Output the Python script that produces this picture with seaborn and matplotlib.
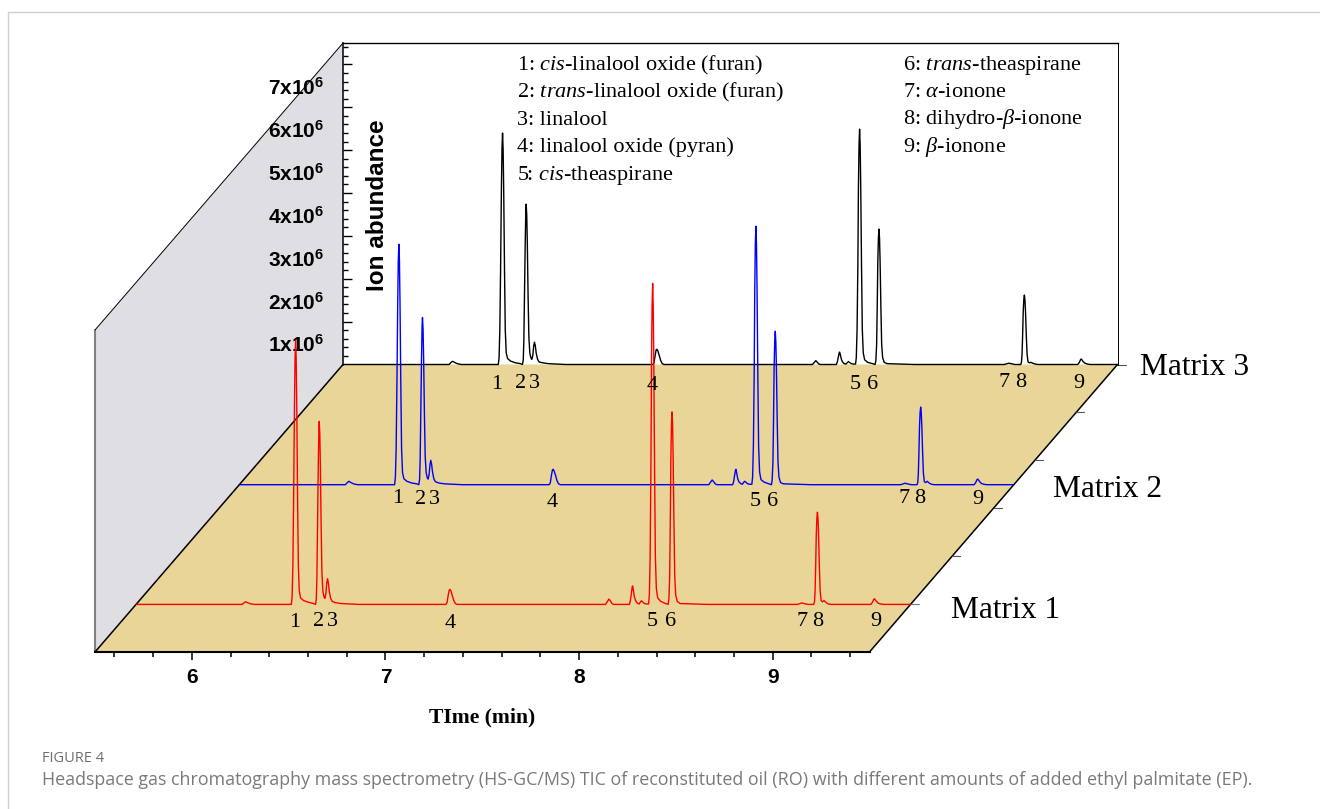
import matplotlib
matplotlib.use("Agg")
import matplotlib.pyplot as plt
from matplotlib.patches import Polygon
from matplotlib.transforms import ScaledTranslation
from matplotlib.ticker import MultipleLocator
import seaborn as sb

# retention time grid (min), shared by the three runs
TIME = [
    5.50, 5.75, 5.95, 6.048, 6.058, 6.066, 6.076, 6.09, 6.11, 6.25,
    6.302, 6.306, 6.310, 6.314, 6.318, 6.321, 6.324, 6.327, 6.330, 6.334, 6.338, 6.343, 6.350, 6.365, 6.39, 6.417,
    6.427, 6.431, 6.434, 6.437, 6.441, 6.444, 6.446, 6.449, 6.452, 6.456, 6.460,
    6.465, 6.471, 6.475, 6.480, 6.485, 6.489, 6.493, 6.498, 6.505, 6.513, 6.53, 6.56, 6.60, 6.65, 6.90,
    7.10, 7.106, 7.112, 7.117, 7.121, 7.126, 7.133, 7.141, 7.149, 7.158, 7.60,
    7.925, 7.932, 7.942, 7.95, 7.958, 7.966,
    8.048, 8.053, 8.058, 8.063, 8.065, 8.069, 8.074, 8.080, 8.088, 8.098,
    8.104, 8.110, 8.118, 8.126, 8.135, 8.145,
    8.147, 8.151, 8.155, 8.159, 8.162, 8.165, 8.168, 8.171, 8.174, 8.178, 8.182, 8.187, 8.194, 8.21, 8.235,
    8.248, 8.252, 8.256, 8.259, 8.262, 8.265, 8.268, 8.271, 8.274, 8.278, 8.282, 8.287, 8.295, 8.31, 8.45, 8.80,
    8.915, 8.93, 8.938, 8.95, 8.97,
    9.000, 9.004, 9.007, 9.010, 9.013, 9.016, 9.019, 9.022, 9.025, 9.029, 9.033, 9.038,
    9.045, 9.053, 9.062, 9.075, 9.09,
    9.295, 9.303, 9.31, 9.314, 9.322, 9.332, 9.345, 9.36, 9.50,
]

# ion abundance in units of 1e6
MATRIX_1 = [
    0, 0, 0, 0.0, 0.04, 0.06, 0.04, 0.015, 0, 0,
    0, .18, .92, 2.59, 4.62, 5.73, 6.16, 5.73, 4.62, 2.59, .92, .31, .15, .09, .05, .02,
    0, .13, .64, 1.79, 3.20, 4.06, 4.27, 3.97, 3.20, 1.79, .73,
    .30, .17, .14, .24, .51, .60, .51, .30, .14, .07, .04, .02, .01, 0, 0,
    0, .04, .21, .33, .35, .32, .21, .09, .02, 0, 0,
    0, .05, .125, .08, .02, 0,
    0, .09, .26, .42, .43, .32, .17, .09, .03, .01,
    .05, .085, .05, .02, .01, .01,
    .01, .22, 1.12, 3.15, 5.62, 6.97, 7.49, 6.97, 5.62, 3.15, 1.12, .37, .15, .07, .02,
    0, .13, .67, 1.89, 3.37, 4.18, 4.49, 4.18, 3.37, 1.89, .67, .22, .07, .02, 0, 0,
    0, .02, .035, .02, 0,
    0, .06, .32, .90, 1.61, 2.00, 2.15, 2.00, 1.61, .90, .32, .09,
    .06, .09, .05, .01, 0,
    0, .05, .12, .13, .08, .03, .01, 0, 0,
]
MATRIX_2 = [
    0, 0, 0, 0.0, 0.05, 0.08, 0.05, 0.02, 0, 0,
    0, .17, .84, 2.36, 4.21, 5.22, 5.61, 5.22, 4.21, 2.36, .84, .28, .14, .08, .04, .02,
    0, .12, .59, 1.64, 2.93, 3.71, 3.90, 3.63, 2.93, 1.64, .66,
    .28, .16, .13, .23, .48, .57, .48, .29, .13, .07, .04, .02, .01, 0, 0,
    0, .04, .22, .34, .36, .32, .22, .09, .02, 0, 0,
    0, .05, .11, .07, .02, 0,
    0, .07, .22, .35, .36, .27, .14, .07, .03, .01,
    .05, .08, .05, .02, .01, .01,
    .01, .18, .90, 2.53, 4.52, 5.61, 6.03, 5.61, 4.52, 2.53, .90, .30, .12, .06, .02,
    0, .11, .54, 1.50, 2.69, 3.33, 3.58, 3.33, 2.69, 1.50, .54, .18, .05, .02, 0, 0,
    0, .02, .035, .02, 0,
    0, .05, .27, .76, 1.36, 1.68, 1.81, 1.68, 1.36, .76, .27, .07,
    .05, .08, .04, .01, 0,
    0, .05, .12, .13, .08, .03, .01, 0, 0,
]
MATRIX_3 = [
    0, 0, 0, 0.0, 0.05, 0.075, 0.05, 0.02, 0, 0,
    0, .16, .81, 2.27, 4.05, 5.02, 5.40, 5.02, 4.05, 2.27, .81, .27, .14, .08, .04, .02,
    0, .11, .56, 1.57, 2.81, 3.55, 3.74, 3.48, 2.81, 1.57, .64,
    .26, .15, .12, .20, .44, .52, .44, .26, .12, .06, .04, .02, .01, 0, 0,
    0, .04, .21, .34, .355, .32, .21, .09, .02, 0, 0,
    0, .04, .09, .05, .01, 0,
    0, .06, .17, .28, .29, .22, .12, .06, .02, .01,
    .04, .07, .04, .02, .01, .01,
    .01, .16, .82, 2.31, 4.12, 5.11, 5.49, 5.11, 4.12, 2.31, .82, .27, .11, .05, .02,
    0, .09, .47, 1.33, 2.37, 2.94, 3.16, 2.94, 2.37, 1.33, .47, .16, .05, .02, 0, 0,
    0, .02, .03, .02, 0,
    0, .05, .24, .68, 1.22, 1.51, 1.62, 1.51, 1.22, .68, .24, .06,
    .04, .05, .03, .01, 0,
    0, .05, .12, .125, .07, .03, .01, 0, 0,
]

TIME_TICKS = [6, 7, 8, 9]
ABUNDANCE_TICKS = [1, 2, 3, 4, 5, 6, 7]
ABUNDANCE_MINOR = [0.2, 0.4, 0.6, 0.8, 1.2, 1.4, 1.6, 1.8, 2.2, 2.4, 2.6, 2.8, 3.2, 3.4, 3.6, 3.8,
                   4.2, 4.4, 4.6, 4.8, 5.2, 5.4, 5.6, 5.8, 6.2, 6.4, 6.6, 6.8, 7.2, 7.4]
ABUNDANCE_LABELS = ["%dx10$^{\\mathdefault{6}}$" % v for v in ABUNDANCE_TICKS]
PEAK_NUMBERS = ["1", "2", "3", "4", "5", "6", "7", "8", "9"]
MATRIX_NAMES = ["Matrix 1", "Matrix 2", "Matrix 3"]
LEGEND_LEFT = [
    "1: $\\mathit{cis}$-linalool oxide (furan)",
    "2: $\\mathit{trans}$-linalool oxide (furan)",
    "3: linalool",
    "4: linalool oxide (pyran)",
    "5: $\\mathit{cis}$-theaspirane",
]
LEGEND_RIGHT = [
    "6: $\\mathit{trans}$-theaspirane",
    "7: $\\mathit{\\alpha}$-ionone",
    "8: dihydro-$\\mathit{\\beta}$-ionone",
    "9: $\\mathit{\\beta}$-ionone",
]
CAPTION_HEAD = "FIGURE 4"
CAPTION = ("Headspace gas chromatography mass spectrometry (HS-GC/MS) TIC of reconstituted oil (RO) "
           "with different amounts of added ethyl palmitate (EP).")

W, H = 1320, 809
FRONT_LEFT, FRONT_RIGHT, FRONT_Y = 95, 869.5, 652
BACK_LEFT, BACK_RIGHT, BACK_Y, TOP_Y = 343, 1117.5, 364.5, 43


def addAxes(fig, left, right, top, bottom, z):
    # pixel box -> figure fractions
    return fig.add_axes([left / W, 1 - bottom / H, (right - left) / W, (bottom - top) / H], zorder=z)


def drawRun(fig, values, color, baseY, z):
    # each run gets its own axes, slid along the floor
    shift = (FRONT_Y - baseY) * (BACK_LEFT - FRONT_LEFT) / (FRONT_Y - BACK_Y)
    ax = addAxes(fig, FRONT_LEFT + shift, FRONT_RIGHT + shift, baseY - (BACK_Y - TOP_Y), baseY, z)
    sb.lineplot(x=TIME, y=values, color=color, linewidth=1.0, estimator=None, ax=ax)
    ax.set_xlim(5.5, 9.5)
    ax.set_ylim(0, 7.5)
    ax.axis("off")
    for line in ax.lines:
        line.set_clip_on(False)
    return ax


def main():
    sb.set_style("white")
    plt.rcParams["font.family"] = ["Liberation Serif", "DejaVu Sans"]
    plt.rcParams["text.color"] = "black"
    plt.rcParams["axes.labelcolor"] = "black"
    plt.rcParams["xtick.color"] = "black"
    plt.rcParams["ytick.color"] = "black"
    plt.rcParams["mathtext.fontset"] = "custom"
    plt.rcParams["mathtext.rm"] = "Liberation Serif"
    plt.rcParams["mathtext.it"] = "Liberation Serif:italic"
    plt.rcParams["mathtext.bf"] = "Liberation Serif:bold"

    fig = plt.figure(figsize=(13.2, 8.09), dpi=100)

    # background in pixel coordinates: card border, side wall, floor
    bg = addAxes(fig, 0, W, 0, H, 0)
    bg.set_xlim(0, W)
    bg.set_ylim(H, 0)
    bg.axis("off")
    bg.plot([8, 8, W], [H, 12, 12], color="#cfcfcf", linewidth=1)
    bg.add_patch(Polygon([(FRONT_LEFT, FRONT_Y), (FRONT_LEFT, 330), (BACK_LEFT, TOP_Y), (BACK_LEFT, BACK_Y)],
                         facecolor="#dfdfe3", edgecolor="none"))
    bg.add_patch(Polygon([(FRONT_LEFT, FRONT_Y), (FRONT_RIGHT, FRONT_Y), (BACK_RIGHT, BACK_Y), (BACK_LEFT, BACK_Y)],
                         facecolor="#e8d597", edgecolor="none"))
    bg.plot([FRONT_LEFT, FRONT_LEFT], [330, FRONT_Y], color="#808080", linewidth=1.5)
    bg.plot([FRONT_LEFT, BACK_LEFT], [330, TOP_Y], color="black", linewidth=0.7)
    bg.plot([FRONT_LEFT, BACK_LEFT], [FRONT_Y, BACK_Y], color="black", linewidth=1.1)
    bg.plot([FRONT_RIGHT, BACK_RIGHT], [FRONT_Y, BACK_Y], color="black", linewidth=1.1)
    for y in [412.4, 460.3, 508.2, 556.1]:
        x = FRONT_RIGHT + (FRONT_Y - y) * (BACK_RIGHT - FRONT_RIGHT) / (FRONT_Y - BACK_Y)
        bg.plot([x, x + 8], [y, y], color="#555555", linewidth=0.8)
    bg.plot([1117, 1126], [BACK_Y, BACK_Y], color="#555555", linewidth=0.8)
    bg.plot([909, 919], [604.4, 604.4], color="#777777", linewidth=0.8)

    # back wall carries the abundance axis
    wall = addAxes(fig, BACK_LEFT, BACK_RIGHT, TOP_Y, BACK_Y, 1)
    wall.patch.set_alpha(0)
    wall.set_xlim(5.5, 9.5)
    wall.set_ylim(0, 7.5)
    wall.set_xticks([])
    wall.set_yticks(ABUNDANCE_TICKS)
    wall.set_yticklabels(ABUNDANCE_LABELS, family="Liberation Sans", fontweight="bold", fontsize=15)
    wall.set_yticks(ABUNDANCE_MINOR, minor=True)
    wall.tick_params(axis="y", which="major", direction="in", length=6.5, width=1, pad=13.5, left=True)
    wall.tick_params(axis="y", which="minor", direction="in", length=3.8, width=1, left=True)
    down = ScaledTranslation(0, -22 / 100, fig.dpi_scale_trans)
    for lab in wall.get_yticklabels():
        lab.set_transform(lab.get_transform() + down)
    for side in ["left", "top", "right"]:
        wall.spines[side].set_visible(True)
        wall.spines[side].set_color("black")
    wall.spines["left"].set_linewidth(1.1)
    wall.spines["top"].set_linewidth(1.0)
    wall.spines["right"].set_linewidth(0.7)
    wall.spines["bottom"].set_visible(False)

    drawRun(fig, MATRIX_3, "black", 364.5, 2)
    drawRun(fig, MATRIX_2, "#0000ff", 484.7, 3)
    drawRun(fig, MATRIX_1, "#ff0000", 604.4, 4)

    # front time axis
    front = addAxes(fig, FRONT_LEFT, FRONT_RIGHT, FRONT_Y - 1, FRONT_Y, 5)
    front.patch.set_alpha(0)
    front.set_xlim(5.5, 9.5)
    front.set_yticks([])
    front.set_xticks(TIME_TICKS)
    front.set_xticklabels(TIME_TICKS, family="Liberation Sans", fontweight="bold", fontsize=15)
    front.xaxis.set_minor_locator(MultipleLocator(0.2))
    front.tick_params(axis="x", which="major", direction="out", length=6, width=1.1, pad=5.5, bottom=True)
    front.tick_params(axis="x", which="minor", direction="out", length=3.5, width=1.1, bottom=True)
    for side in ["left", "top", "right"]:
        front.spines[side].set_visible(False)
    front.spines["bottom"].set_visible(True)
    front.spines["bottom"].set_color("black")
    front.spines["bottom"].set_linewidth(1.5)
    front.set_xlabel("TIme (min)", fontweight="bold", fontsize=15.6, labelpad=15)

    # text layer
    txt = addAxes(fig, 0, W, 0, H, 6)
    txt.set_xlim(0, W)
    txt.set_ylim(H, 0)
    txt.axis("off")
    txt.text(377, 205, "Ion abundance", family="Liberation Sans", fontweight="bold", fontsize=17.5,
             rotation=90, ha="center", va="center")
    for i, s in enumerate(LEGEND_LEFT):
        txt.text(517, [65, 92, 120, 147, 175][i], s, fontsize=16, ha="left", va="center")
    for i, s in enumerate(LEGEND_RIGHT):
        txt.text(903, [65, 92, 119, 147][i], s, fontsize=16, ha="left", va="center")

    number_x = [
        [295, 319, 332, 450, 652, 671, 802, 818, 876],
        [398, 421, 434, 552, 755, 773, 904, 920, 978],
        [497, 521, 534, 652, 855, 873, 1004, 1021, 1079],
    ]
    number_y = [
        [622.5, 621, 621, 623, 622, 622, 621, 621, 622],
        [498, 499, 499, 502, 501, 501, 498, 498, 499],
        [384, 383, 383, 385, 384, 384, 382.5, 382.5, 383.5],
    ]
    for row, rowY in zip(number_x, number_y):
        for x, y, n in zip(row, rowY, PEAK_NUMBERS):
            txt.text(x, y, n, fontsize=16, ha="center", va="center")

    for name, x, y in zip(MATRIX_NAMES, [951, 1053, 1140], [610, 489, 367]):
        txt.text(x, y, name, fontsize=22.7, ha="left", va="center")

    txt.text(42, 759, CAPTION_HEAD, family="Open Sans", fontsize=10.5, color="#6f6f6f", ha="left", va="center")
    txt.text(42, 780, CAPTION, family="Open Sans", fontsize=12.92, color="#7a7a7a", ha="left", va="center")

    fig.savefig("out.png", dpi=100)


if __name__ == "__main__":
    main()
